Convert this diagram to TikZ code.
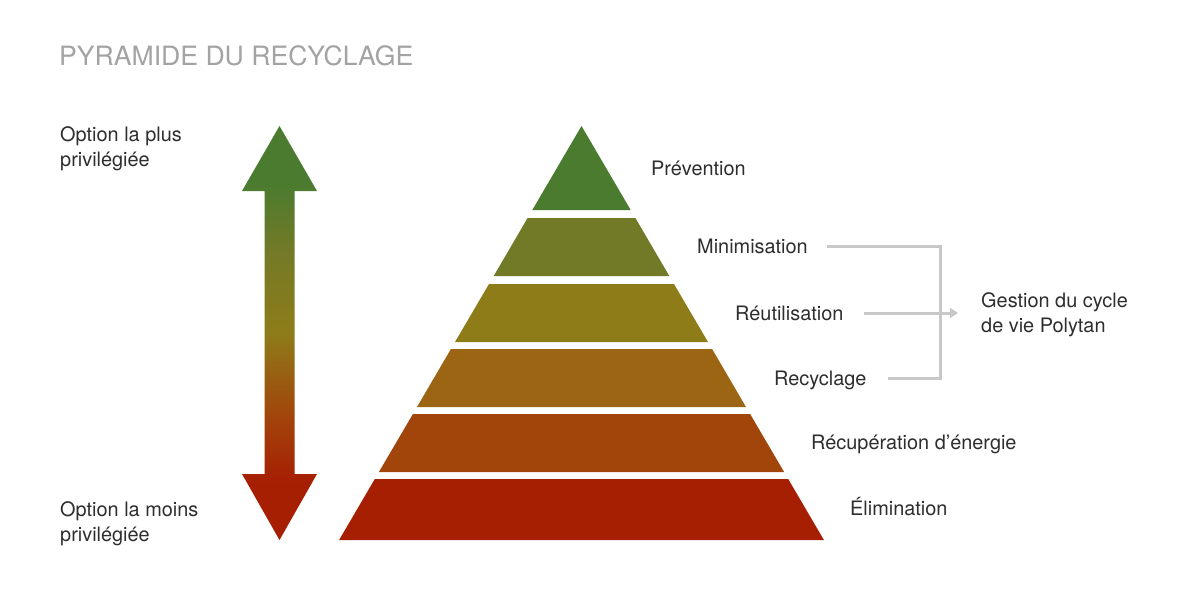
\documentclass[tikz,border=0pt]{standalone}
\usepackage{fontspec}
\setmainfont{TeX Gyre Heros}
\usetikzlibrary{arrows.meta}
\definecolor{tA}{HTML}{4B7B2F}
\definecolor{tB}{HTML}{737A27}
\definecolor{tC}{HTML}{8E7C19}
\definecolor{tD}{HTML}{9C6513}
\definecolor{tE}{HTML}{A2450B}
\definecolor{tF}{HTML}{A61F03}
\definecolor{lbl}{HTML}{2E2E2E}
\definecolor{ttl}{HTML}{A3A3A3}
\definecolor{brk}{HTML}{C8C8C8}
\pgfdeclareverticalshading{arrowgrad}{100bp}{%
  color(0bp)=(tF); color(32bp)=(tF); color(40bp)=(tE); color(50bp)=(tC); color(60bp)=(tB); color(68bp)=(tA); color(100bp)=(tA)}
\tikzset{
  lab/.style={anchor=west, inner sep=0pt, text height=14pt, text depth=0pt, text=lbl, font=\fontsize{19.9}{24}\selectfont},
  lab2/.style={anchor=base west, inner sep=0pt, align=left, text=lbl, font=\fontsize{19.9}{25}\selectfont},
  bline/.style={draw=brk, line width=3pt},
}
\begin{document}
\begin{tikzpicture}[x=1pt,y=-1pt]
\useasboundingbox (0,0) rectangle (1200,600);
\fill[white] (0,0) rectangle (1200,600);
% title
\node[anchor=base west, inner sep=0pt, text=ttl, font=\fontsize{26.6}{30}\selectfont] (title) at (59,65) {PYRAMIDE DU RECYCLAGE};
% gradient double arrow
\shade[shading=arrowgrad]
  (279.5,126) -- (317,191) -- (294.5,191) -- (294.5,474) -- (317,474) -- (279.5,540)
  -- (242,474) -- (264.5,474) -- (264.5,191) -- (242,191) -- cycle;
% pyramid
\fill[tA] (581.5,126) -- (630.7,210) -- (532.3,210) -- cycle;
\fill[tB] (527.6,218) -- (635.4,218) -- (669.3,276) -- (493.7,276) -- cycle;
\fill[tC] (489.0,284) -- (674.0,284) -- (708.0,342) -- (455.0,342) -- cycle;
\fill[tD] (450.9,349) -- (712.1,349) -- (746.0,407) -- (417.0,407) -- cycle;
\fill[tE] (412.9,414) -- (750.1,414) -- (784.1,472) -- (378.9,472) -- cycle;
\fill[tF] (374.8,479) -- (788.2,479) -- (823.9,540) -- (339.1,540) -- cycle;
% labels
\node[lab2] (plus) at (60,166) {Option la plus\\privilégiée};
\node[lab2] (moins) at (60,541) {Option la moins\\privilégiée};
\node[lab] (prev) at (651,168) {Prévention};
\node[lab] (mini) at (697,246) {Minimisation};
\node[lab] (reut) at (735,313) {Réutilisation};
\node[lab] (recy) at (774,378) {Recyclage};
\node[lab] (recu) at (811,442) {Récupération d’énergie};
\node[lab] (elim) at (850,508) {Élimination};
\node[lab2] (gest) at (981,332) {Gestion du cycle\\de vie Polytan};
% bracket
\coordinate (bx) at (940,0);
\coordinate (tip) at (958,0);
\draw[bline] ([xshift=19pt]mini.east) -| (bx |- recy.east) -- ([xshift=21pt]recy.east);
\draw[bline, -{Triangle[length=8pt,width=10pt]}] ([xshift=20pt]reut.east) -- (tip |- reut.east);
\end{tikzpicture}
\end{document}
